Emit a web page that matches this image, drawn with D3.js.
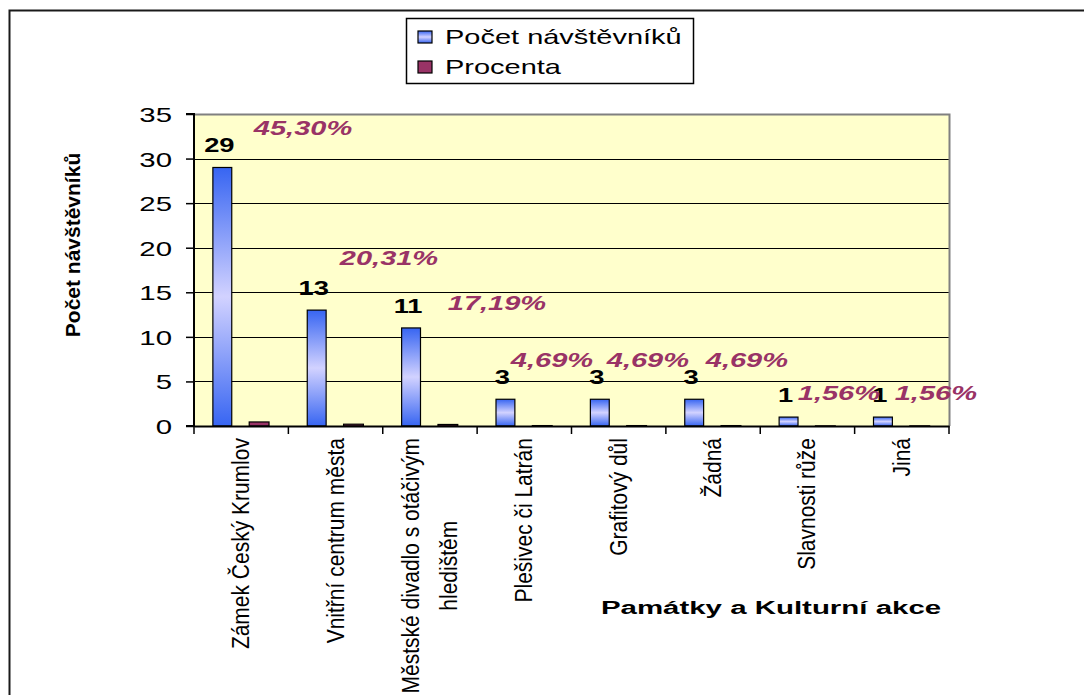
<!DOCTYPE html>
<html>
<head>
<meta charset="utf-8">
<script src="https://cdn.jsdelivr.net/npm/d3@7"></script>
<style>
  html, body { margin: 0; padding: 0; background: #fff; }
  svg { display: block; font-family: "Liberation Sans", Arial, sans-serif; }
</style>
</head>
<body>
<div id="chart"></div>
<script>
// data
var categories = ["Zámek Český Krumlov", "Vnitřní centrum města", "Městské divadlo s otáčivým hledištěm",
                  "Plešivec či Latrán", "Grafitový důl", "Žádná", "Slavnosti růže", "Jiná"];
var counts = [29, 13, 11, 3, 3, 3, 1, 1];
var percents = [45.30, 20.31, 17.19, 4.69, 4.69, 4.69, 1.56, 1.56];
var yTicks = [0, 5, 10, 15, 20, 25, 30, 35];
var seriesNames = ["Počet návštěvníků", "Procenta"];

// where the percent labels were dragged to in the original (x offset in band, y in axis units)
var pctLabelPos = [[109, 32.65], [100.6, 18.06], [114.2, 13.0], [74.8, 6.62],
                   [76.4, 6.62], [81, 6.62], [78.6, 2.92], [81.2, 2.92]];

var W = 1084, H = 695;
var sx = 1.4; // horizontal texts are drawn wide in the original

var svg = d3.select("#chart").append("svg")
    .attr("width", W)
    .attr("height", H);

var defs = svg.append("defs");
var grad = defs.append("linearGradient")
    .attr("id", "blueGrad")
    .attr("x1", 0).attr("y1", 0).attr("x2", 0).attr("y2", 1);
grad.append("stop").attr("offset", "0%").attr("stop-color", "#3765f2");
grad.append("stop").attr("offset", "50%").attr("stop-color", "#d2d2ff");
grad.append("stop").attr("offset", "100%").attr("stop-color", "#3765f2");

// outer chart frame (top and left edges visible)
svg.append("path")
    .attr("d", "M9.5," + H + "V10.5H" + W)
    .attr("fill", "none")
    .attr("stroke", "#1a1a1a")
    .attr("stroke-width", 2);

var x = d3.scaleBand().domain(categories).range([194, 949]).padding(0);
var y = d3.scaleLinear().domain([0, 35]).range([426, 114]);
var bw = x.bandwidth();

// plot area
svg.append("rect")
    .attr("x", x.range()[0])
    .attr("y", y(35))
    .attr("width", x.range()[1] - x.range()[0])
    .attr("height", y(0) - y(35))
    .attr("fill", "#ffffcc");

svg.append("g").selectAll("line")
    .data(yTicks.filter(function (d) { return d > 0 && d < 35; }))
    .join("line")
    .attr("x1", x.range()[0]).attr("x2", x.range()[1])
    .attr("y1", function (d) { return Math.round(y(d)) + 0.5; })
    .attr("y2", function (d) { return Math.round(y(d)) + 0.5; })
    .attr("stroke", "#000")
    .attr("stroke-width", 1);

// plot border top/right (gray)
svg.append("path")
    .attr("d", "M" + x.range()[0] + "," + (y(35) + 0.5) + "H" + (x.range()[1] + 0.5) + "V" + y(0))
    .attr("fill", "none")
    .attr("stroke", "#808080")
    .attr("stroke-width", 2);

// bars
svg.append("g").selectAll("rect")
    .data(counts)
    .join("rect")
    .attr("x", function (d, i) { return x(categories[i]) + bw * 0.2; })
    .attr("y", function (d) { return y(d); })
    .attr("width", bw * 0.2)
    .attr("height", function (d) { return y(0) - y(d); })
    .attr("fill", "url(#blueGrad)")
    .attr("stroke", "#000")
    .attr("stroke-width", 1.2);

svg.append("g").selectAll("rect")
    .data(percents)
    .join("rect")
    .attr("x", function (d, i) { return x(categories[i]) + bw * 0.585; })
    .attr("y", function (d) { return y(d / 100); })
    .attr("width", bw * 0.21)
    .attr("height", function (d) { return y(0) - y(d / 100); })
    .attr("fill", "#993366")
    .attr("stroke", "#000")
    .attr("stroke-width", 1.2);

// axes
var yAxis = svg.append("g")
    .attr("transform", "translate(" + x.range()[0] + ",0)")
    .call(d3.axisLeft(y).tickValues(yTicks).tickSize(8).tickFormat(""));
var xAxis = svg.append("g")
    .attr("transform", "translate(0," + y(0) + ")")
    .call(d3.axisBottom(x).tickSize(0).tickFormat(""));
[yAxis, xAxis].forEach(function (a) {
    a.select(".domain").attr("stroke", "#000").attr("stroke-width", 2);
    a.selectAll(".tick line").attr("stroke", "#000").attr("stroke-width", 1.5);
});
yAxis.select(".domain").attr("d", "M-8," + y(35) + "H0V" + y(0) + "H-8");

// x ticks at band boundaries
var bounds = categories.map(function (c) { return x(c); }).concat([x.range()[1]]);
svg.append("g").selectAll("line")
    .data(bounds)
    .join("line")
    .attr("x1", function (d) { return d; }).attr("x2", function (d) { return d; })
    .attr("y1", y(0)).attr("y2", y(0) + 8)
    .attr("stroke", "#000").attr("stroke-width", 1.5);

// y tick labels
svg.append("g").selectAll("g")
    .data(yTicks)
    .join("g")
    .attr("transform", function (d) { return "translate(172," + (y(d) + 8) + ") scale(" + sx + ",1)"; })
    .append("text")
    .attr("text-anchor", "end")
    .attr("font-size", 21)
    .attr("fill", "#000")
    .text(function (d) { return d; });

// count labels
svg.append("g").selectAll("g")
    .data(counts)
    .join("g")
    .attr("transform", function (d, i) {
        return "translate(" + (x(categories[i]) + bw * 0.3 - 3) + "," + (y(d) - 15) + ") scale(" + sx + ",1)";
    })
    .append("text")
    .attr("text-anchor", "middle")
    .attr("font-size", 19.5)
    .attr("font-weight", "bold")
    .attr("fill", "#000")
    .text(function (d) { return d; });

// percent labels
var fmt = d3.format(".2f");
svg.append("g").selectAll("g")
    .data(percents)
    .join("g")
    .attr("transform", function (d, i) {
        return "translate(" + (x(categories[i]) + pctLabelPos[i][0]) + "," + y(pctLabelPos[i][1]) + ") scale(1.45,1)";
    })
    .append("text")
    .attr("text-anchor", "middle")
    .attr("font-size", 20)
    .attr("font-weight", "bold")
    .attr("font-style", "italic")
    .attr("fill", "#993366")
    .text(function (d) { return fmt(d).replace(".", ",") + "%"; });

// category labels, rotated, wrapped like Excel
var catFont = 21, maxLen = 265, lineGap = 33, across = 1.15;
var catG = svg.append("g");
categories.forEach(function (c) {
    var probe = catG.append("text").attr("font-size", catFont);
    var words = c.split(" "), lines = [], cur = "";
    words.forEach(function (w) {
        var t = cur ? cur + " " + w : w;
        probe.text(t);
        if (probe.node().getComputedTextLength() > maxLen && cur) {
            lines.push(cur);
            cur = w;
        } else {
            cur = t;
        }
    });
    lines.push(cur);
    var longest = d3.max(lines, function (l) { probe.text(l); return probe.node().getComputedTextLength(); });
    probe.remove();
    var cx = x(c) + bw / 2, top = y(0) + 12;
    var g = catG.append("g")
        .attr("transform", "translate(" + cx + "," + (top + longest / 2) + ") rotate(-90) scale(1," + across + ")");
    lines.forEach(function (l, k) {
        g.append("text")
            .attr("text-anchor", "middle")
            .attr("dominant-baseline", "central")
            .attr("y", (k - (lines.length - 1) / 2) * lineGap)
            .attr("font-size", catFont)
            .attr("fill", "#000")
            .text(l);
    });
});

// axis titles
svg.append("text")
    .attr("transform", "translate(72,245) rotate(-90)")
    .attr("text-anchor", "middle")
    .attr("dominant-baseline", "central")
    .attr("font-size", 21)
    .attr("font-weight", "bold")
    .attr("fill", "#000")
    .text(seriesNames[0]);

svg.append("g")
    .attr("transform", "translate(771,614) scale(1.55,1)")
    .append("text")
    .attr("text-anchor", "middle")
    .attr("font-size", 19)
    .attr("font-weight", "bold")
    .attr("fill", "#000")
    .text("Památky a Kulturní akce");

// legend
var legend = svg.append("g");
legend.append("rect")
    .attr("x", 406.5).attr("y", 18.5)
    .attr("width", 287).attr("height", 65)
    .attr("fill", "#fff")
    .attr("stroke", "#000")
    .attr("stroke-width", 1.5);
var legFill = ["url(#blueGrad)", "#993366"];
seriesNames.forEach(function (s, i) {
    var ly = 31 + i * 30;
    legend.append("rect")
        .attr("x", 418).attr("y", ly)
        .attr("width", 14).attr("height", 12)
        .attr("fill", legFill[i])
        .attr("stroke", "#000")
        .attr("stroke-width", 1.2);
    legend.append("g")
        .attr("transform", "translate(445," + (ly + 13) + ") scale(1.38,1)")
        .append("text")
        .attr("font-size", 21)
        .attr("fill", "#000")
        .text(s);
});
</script>
</body>
</html>
